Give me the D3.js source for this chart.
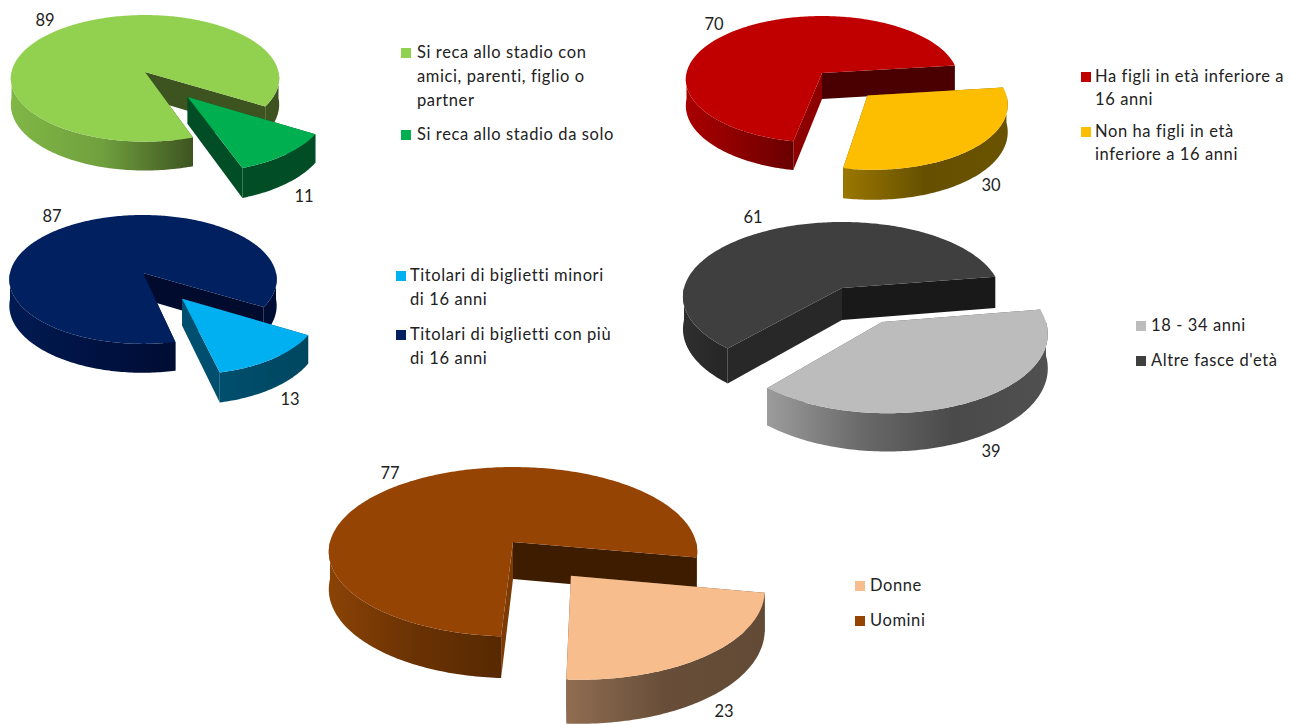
<!DOCTYPE html>
<html lang="it">
<head>
<meta charset="utf-8">
<title>Profilo degli spettatori allo stadio</title>
<script src="https://cdn.jsdelivr.net/npm/d3@7/dist/d3.min.js"></script>
<style>
  html, body { margin: 0; padding: 0; background: #fff; overflow: hidden; }
  svg { display: block; }
  text { font-family: Lato, "Open Sans", sans-serif; fill: #222; }
</style>
</head>
<body>
<svg id="chart" width="1292" height="724"></svg>
<script>
// Category names, one array per pie
const companyCategories = [["Si reca allo stadio con", "amici, parenti, figlio o", "partner"], ["Si reca allo stadio da solo"]];
const childrenCategories = [["Ha figli in età inferiore a", "16 anni"], ["Non ha figli in età", "inferiore a 16 anni"]];
const ticketCategories = [["Titolari di biglietti minori", "di 16 anni"], ["Titolari di biglietti con più", "di 16 anni"]];
const ageCategories = [["18 - 34 anni"], ["Altre fasce d'età"]];
const genderCategories = [["Donne"], ["Uomini"]];

// Percentages
const companyValues = [89, 11];
const childrenValues = [70, 30];
const ticketValues = [13, 87];
const ageValues = [39, 61];
const genderValues = [23, 77];

// Top-surface colours
const companyColors = ["#92d050", "#00b050"];
const childrenColors = ["#c00000", "#fdbd00"];
const ticketColors = ["#00b0f0", "#002060"];
const ageColors = ["#bcbcbc", "#3f3f3f"];
const genderColors = ["#f7bd8c", "#964404"];

// Side-wall shading per slice: outer rim gradient, wall at the slice's first edge, wall at its last edge
const companyWalls = [
  { rim: ["#80b746", "#70a03e", "#3e5420"], first: "#3e5420", last: "#3d5420" },
  { rim: ["#004d26", "#004d26"], first: "#004d26", last: "#004d26" }
];
const childrenWalls = [
  { rim: ["#a80000", "#8c0000", "#680000"], first: "#8e0000", last: "#4a0000" },
  { rim: ["#9a7700", "#665000", "#6a5300"], first: "#6a5300", last: "#6a5300" }
];
const ticketWalls = [
  { rim: ["#004f6e", "#00465f"], first: "#004f6e", last: "#004f6e" },
  { rim: ["#001b52", "#001242", "#000d33"], first: "#000d33", last: "#000b2e" }
];
const ageWalls = [
  { rim: ["#9c9c9c", "#6a6a6a", "#4a4a4a", "#505050"], first: "#555555", last: "#555555" },
  { rim: ["#2f2f2f", "#2a2a2a", "#262626"], first: "#282828", last: "#191919" }
];
const genderWalls = [
  { rim: ["#8f6d52", "#684e38", "#624a36"], first: "#624a36", last: "#624a36" },
  { rim: ["#8a4306", "#6a3203", "#572902"], first: "#7c3a04", last: "#3d1c00" }
];

// Geometry of each pie on the page
const pieLayouts = [
  { cx: 145, cy: 72, rx: 133.5, ry: 62.7, tilt: 0.1, depth: 26, start: 161, burst: 1, pull: 0.49, burstRadius: 1 },
  { cx: 822, cy: 73, rx: 135.5, ry: 62.7, tilt: 0.1, depth: 26, start: 191, burst: 1, pull: 0.475, burstRadius: 0.99 },
  { cx: 143, cy: 273, rx: 133, ry: 63.8, tilt: 0.1, depth: 26, start: 120.5, burst: 0, pull: 0.48, burstRadius: 0.985 },
  { cx: 842, cy: 288, rx: 158, ry: 73.6, tilt: 0.115, depth: 32, start: 81, burst: 0, pull: 0.5, burstRadius: 0.985 },
  { cx: 513, cy: 542, rx: 183, ry: 83.6, tilt: 0.115, depth: 37, start: 100.5, burst: 0, pull: 0.49, burstRadius: 1 }
];

// Value labels and legend blocks
const labelSpots = [
  [[45, 20], [304, 196]],
  [[714, 24], [991, 185]],
  [[290, 399], [52, 216]],
  [[991, 451], [753, 217]],
  [[724, 711], [390, 473]]
];
const legendBlocks = [
  { x: 401, textX: 417, rows: [52, 134], lead: 24 },
  { x: 1081, textX: 1095, rows: [76, 131], lead: 23 },
  { x: 396, textX: 410, rows: [275, 334], lead: 24 },
  { x: 1136, textX: 1151, rows: [325, 360], lead: 24 },
  { x: 855, textX: 870, rows: [585, 620], lead: 24 }
];

const charts = [
  { categories: companyCategories, values: companyValues, colors: companyColors, walls: companyWalls },
  { categories: childrenCategories, values: childrenValues, colors: childrenColors, walls: childrenWalls },
  { categories: ticketCategories, values: ticketValues, colors: ticketColors, walls: ticketWalls },
  { categories: ageCategories, values: ageValues, colors: ageColors, walls: ageWalls },
  { categories: genderCategories, values: genderValues, colors: genderColors, walls: genderWalls }
];

const STEP = Math.PI / 180;
const svg = d3.select("#chart");
const defs = svg.append("defs");
const toRad = d3.scaleLinear().domain([0, 180]).range([0, Math.PI]);
const path = d3.line().x(d => d[0]).y(d => d[1]);

charts.forEach((chart, pieIndex) => {
  const geo = pieLayouts[pieIndex];
  const start = toRad(geo.start);
  const slices = d3.pie().sort(null).startAngle(start).endAngle(start + 2 * Math.PI)(chart.values);

  // Ground-plane point (unit disc) to screen, with a mild perspective towards the viewer
  const xs = d3.scaleLinear().domain([-1, 1]).range([geo.cx - geo.rx, geo.cx + geo.rx]);
  const ys = d3.scaleLinear().domain([-1, 1]).range([geo.cy - geo.ry, geo.cy + geo.ry]);
  const project = (gx, gy, drop) => {
    const s = 1 / (1 - geo.tilt * gy);
    return [xs(gx * s), ys(gy * s) + (drop ? geo.depth * s : 0)];
  };

  const order = slices.map((_, i) => i).sort((a, b) => (a === geo.burst) - (b === geo.burst));
  const g = svg.append("g");

  order.forEach(i => {
    const slice = slices[i];
    const mid = (slice.startAngle + slice.endAngle) / 2;
    const pulled = i === geo.burst;
    const pull = pulled ? geo.pull : 0;
    const radius = pulled ? geo.burstRadius : 1;
    const ox = pull * Math.sin(mid);
    const oy = -pull * Math.cos(mid);
    const rimPoint = (a, drop) => project(ox + radius * Math.sin(a), oy - radius * Math.cos(a), drop);
    const apex = drop => project(ox, oy, drop);
    const arcAngles = (a0, a1) => d3.range(a0, a1, STEP).concat([a1]);

    // Flat walls along the two radial edges
    [[slice.startAngle, chart.walls[i].first], [slice.endAngle, chart.walls[i].last]].forEach(([a, fill]) => {
      g.append("path")
        .attr("d", path([apex(false), rimPoint(a, false), rimPoint(a, true), apex(true)]) + "Z")
        .attr("fill", fill);
    });

    // Rim: only the stretches turned towards the viewer
    const pieces = [-1, 0, 1, 2]
      .map(n => [Math.max(slice.startAngle, Math.PI / 2 + n * 2 * Math.PI), Math.min(slice.endAngle, 1.5 * Math.PI + n * 2 * Math.PI)])
      .filter(([a, b]) => b > a);
    const longest = d3.greatest(pieces, ([a, b]) => b - a);
    if (longest) {
      const extent = d3.extent(arcAngles(longest[0], longest[1]), a => rimPoint(a, false)[0]);
      const id = `rim-${pieIndex}-${i}`;
      const grad = defs.append("linearGradient").attr("id", id)
        .attr("gradientUnits", "userSpaceOnUse")
        .attr("x1", extent[0]).attr("x2", extent[1]).attr("y1", 0).attr("y2", 0);
      const stops = chart.walls[i].rim;
      stops.forEach((c, k) => grad.append("stop").attr("offset", k / (stops.length - 1)).attr("stop-color", c));
      pieces.forEach(([a, b]) => {
        const angles = arcAngles(a, b);
        const outline = angles.map(t => rimPoint(t, false))
          .concat(angles.slice().reverse().map(t => rimPoint(t, true)));
        g.append("path").attr("d", path(outline) + "Z").attr("fill", `url(#${id})`);
      });
    }

    // Top surface
    const top = [apex(false)].concat(arcAngles(slice.startAngle, slice.endAngle).map(t => rimPoint(t, false)));
    g.append("path").attr("d", path(top) + "Z").attr("fill", chart.colors[i]);
  });

  // Value labels
  chart.values.forEach((v, i) => {
    g.append("text")
      .attr("x", labelSpots[pieIndex][i][0])
      .attr("y", labelSpots[pieIndex][i][1] + 2)
      .attr("text-anchor", "middle")
      .attr("dominant-baseline", "middle")
      .attr("font-size", 16.5)
      .text(v);
  });

  // Legend
  const legend = legendBlocks[pieIndex];
  chart.categories.forEach((lines, i) => {
    const rowY = legend.rows[i];
    g.append("rect")
      .attr("x", legend.x).attr("y", rowY - 4)
      .attr("width", 10).attr("height", 10)
      .attr("fill", chart.colors[i]);
    lines.forEach((line, l) => {
      g.append("text")
        .attr("x", legend.textX)
        .attr("y", rowY + 2 + l * legend.lead)
        .attr("dominant-baseline", "middle")
        .attr("font-size", 16.5)
        .attr("letter-spacing", 0.6)
        .text(line);
    });
  });
});
</script>
</body>
</html>
